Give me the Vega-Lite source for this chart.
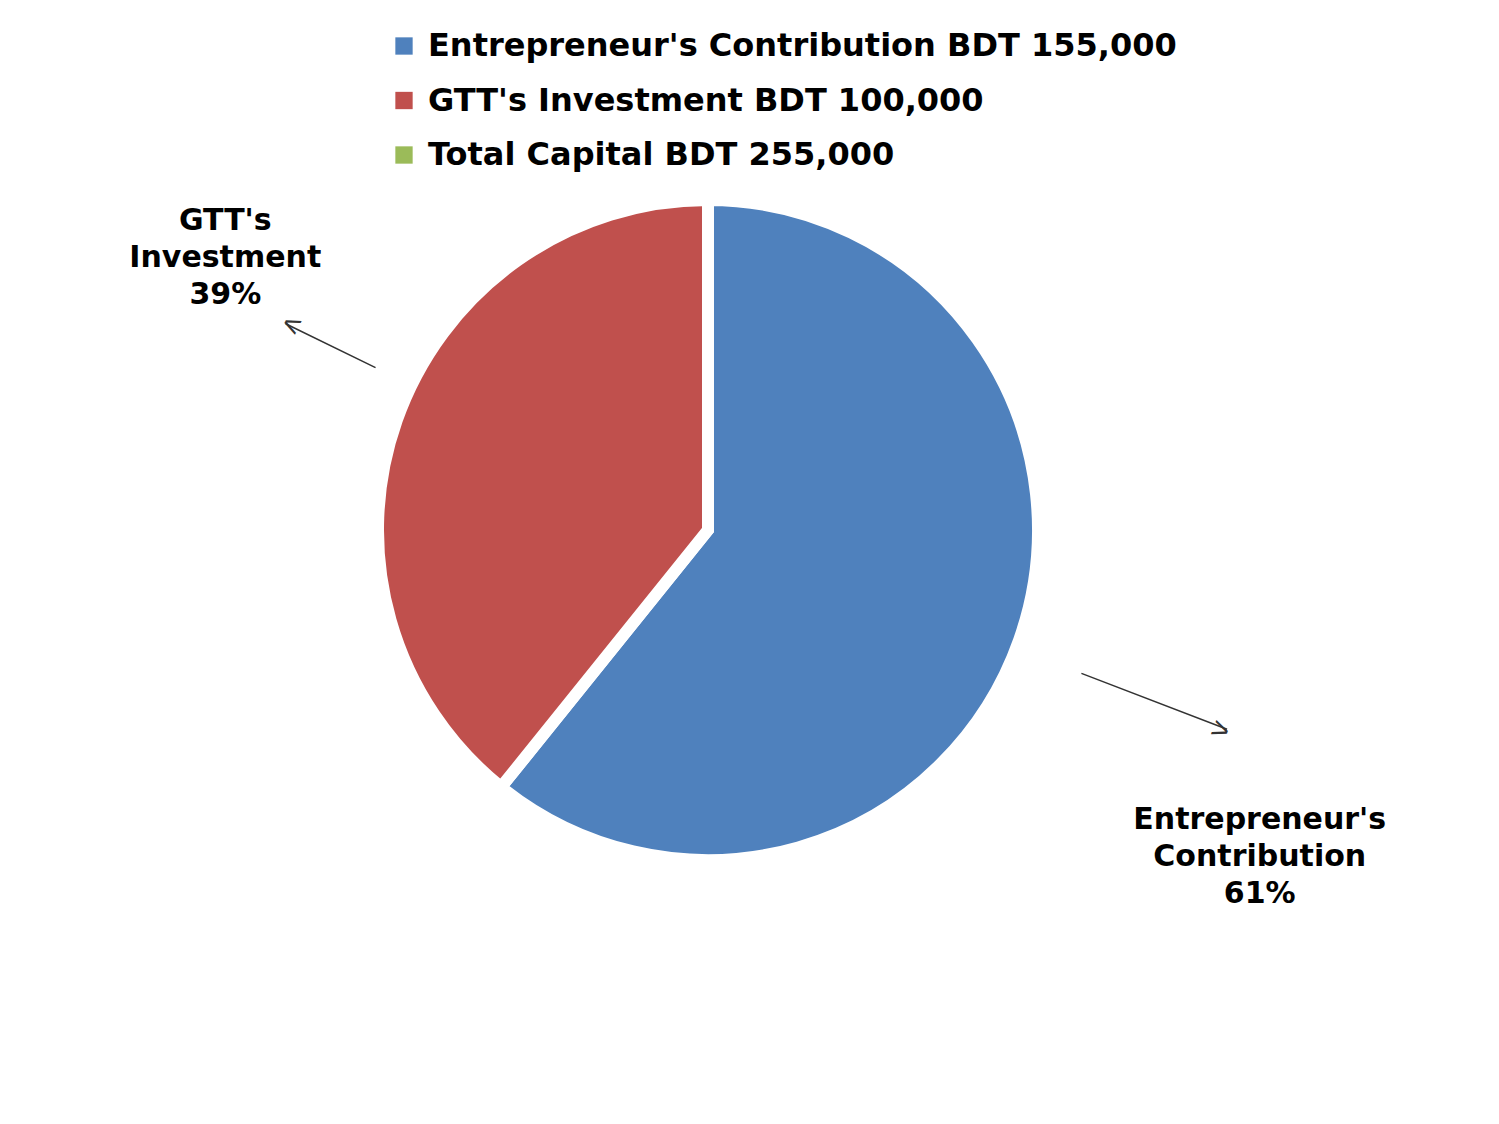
{
  "$schema": "https://vega.github.io/schema/vega-lite/v6.json",
  "autosize": {"type": "fit", "contains": "padding"},
  "width": 1499,
  "height": 1124,
  "padding": {"left": 0, "right": 83, "top": 0, "bottom": 64},
  "background": "white",
  "config": {"view": {"stroke": null}},
  "data": {
    "values": [
      {"series": "Entrepreneur's Contribution BDT 155,000", "value": 155000, "label": "Entrepreneur's\nContribution\n61%"},
      {"series": "GTT's Investment  BDT 100,000", "value": 100000, "label": "GTT's\nInvestment\n39%"},
      {"series": "Total Capital BDT 255,000", "value": 0, "label": ""}
    ]
  },
  "encoding": {
    "theta": {"field": "value", "type": "quantitative", "stack": true, "scale": {"domain": [0, 255000]}}
  },
  "layer": [
    {
      "mark": {"type": "arc", "outerRadius": 330, "stroke": "white", "strokeWidth": 12},
      "encoding": {
        "color": {
          "field": "series",
          "type": "nominal",
          "scale": {
            "domain": ["Entrepreneur's Contribution BDT 155,000", "GTT's Investment  BDT 100,000", "Total Capital BDT 255,000"],
            "range": ["#4F81BD", "#C0504D", "#9BBB59"]
          },
          "legend": {
            "title": null,
            "orient": "none",
            "legendX": 388,
            "legendY": 30,
            "direction": "vertical",
            "symbolType": "square",
            "symbolSize": 300,
            "symbolStrokeWidth": 0,
            "labelFont": "DejaVu Sans",
            "labelFontWeight": "bold",
            "labelFontSize": 32,
            "labelColor": "black",
            "labelLimit": 1000,
            "rowPadding": 22.5,
            "labelOffset": 8
          }
        }
      }
    },
    {
      "transform": [{"filter": "datum.value > 0"}],
      "mark": {"type": "text", "radius": 480, "dx": -30, "dy": -149, "font": "DejaVu Sans", "fontWeight": "bold", "fontSize": 30, "lineHeight": 37, "lineBreak": "\n", "align": "center", "baseline": "middle", "color": "black"},
      "encoding": {
        "detail": {"field": "series", "type": "nominal"},
        "text": {"condition": {"test": "indexof(datum.series, 'GTT') === 0", "field": "label"}, "value": ""}
      }
    },
    {
      "transform": [{"filter": "datum.value > 0"}],
      "mark": {"type": "text", "radius": 480, "dx": 99, "dy": 130, "font": "DejaVu Sans", "fontWeight": "bold", "fontSize": 30, "lineHeight": 37, "lineBreak": "\n", "align": "center", "baseline": "middle", "color": "black"},
      "encoding": {
        "detail": {"field": "series", "type": "nominal"},
        "text": {"condition": {"test": "indexof(datum.series, 'Entrepreneur') === 0", "field": "label"}, "value": ""}
      }
    },
    {
      "transform": [
        {"stack": "value", "groupby": [], "as": ["v0", "v1"], "sort": [{"field": "series", "order": "ascending"}]},
        {"filter": "indexof(datum.series, 'GTT') === 0"}
      ],
      "mark": {"type": "arc", "innerRadius": 370, "outerRadius": 470, "thetaOffset": 1.3474, "theta2Offset": 1.3474, "fill": null, "stroke": "#333333", "strokeWidth": 1.5},
      "encoding": {
        "theta": {"field": "v0", "type": "quantitative", "stack": null, "scale": {"domain": [0, 255000]}},
        "theta2": {"field": "v0"}
      }
    },
    {
      "transform": [
        {"stack": "value", "groupby": [], "as": ["v0", "v1"], "sort": [{"field": "series", "order": "ascending"}]},
        {"filter": "indexof(datum.series, 'Entrepreneur') === 0"}
      ],
      "mark": {"type": "arc", "innerRadius": 400, "outerRadius": 556, "thetaOffset": 1.9373, "theta2Offset": 1.9373, "fill": null, "stroke": "#333333", "strokeWidth": 1.5},
      "encoding": {
        "theta": {"field": "v0", "type": "quantitative", "stack": null, "scale": {"domain": [0, 255000]}},
        "theta2": {"field": "v0"}
      }
    },
    {
      "transform": [{"filter": "datum.value > 0"}],
      "mark": {"type": "text", "radius": 470, "dx": -6, "dy": -55, "angle": 26, "font": "Liberation Sans", "fontSize": 30, "align": "left", "baseline": "middle", "color": "#333333"},
      "encoding": {
        "detail": {"field": "series", "type": "nominal"},
        "text": {"condition": {"test": "indexof(datum.series, 'GTT') === 0", "value": "<"}, "value": ""}
      }
    },
    {
      "transform": [{"filter": "datum.value > 0"}],
      "mark": {"type": "text", "radius": 556, "dx": 3, "dy": 19, "angle": 21, "font": "Liberation Sans", "fontSize": 30, "align": "right", "baseline": "middle", "color": "#333333"},
      "encoding": {
        "detail": {"field": "series", "type": "nominal"},
        "text": {"condition": {"test": "indexof(datum.series, 'Entrepreneur') === 0", "value": ">"}, "value": ""}
      }
    }
  ]
}
